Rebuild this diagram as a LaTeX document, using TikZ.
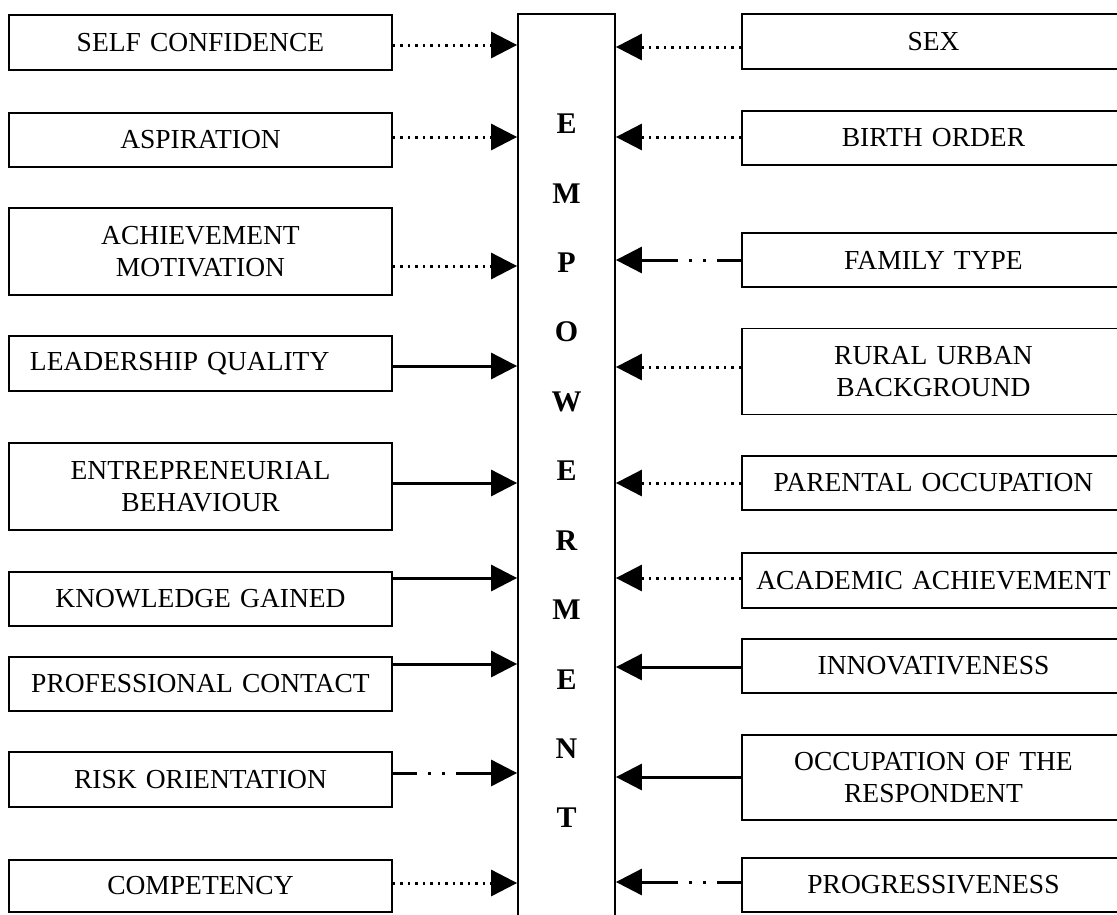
\documentclass[tikz,border=0pt]{standalone}
\usepackage{fontspec}
\setmainfont{Liberation Serif}
\usetikzlibrary{arrows.meta}
\newcommand{\boxfont}{\fontsize{27.5}{32}\selectfont}
\newcommand{\letterfont}{\fontsize{30}{34}\selectfont\bfseries}
\tikzset{
  factor/.style={draw, line width=1.8pt, minimum width=383pt, inner sep=0pt, font=\boxfont},
  ctr/.style={align=center, text width=378pt},
  lft/.style={align=left, text width=341pt},
  letter/.style={font=\letterfont},
  headarrow/.style={-{Triangle[length=26pt,width=26pt]}},
  solidlink/.style={headarrow, line width=3pt},
  dotlink/.style={headarrow, line width=3pt, dash pattern=on 2.5pt off 5pt},
  dashlink/.style={headarrow, line width=3pt, dash pattern=on 24pt off 11pt on 3pt off 11pt on 3pt off 11pt on 50pt},
}
\begin{document}
\begin{tikzpicture}[x=1pt,y=-1pt]
\useasboundingbox (0,0) rectangle (1117,914);
\clip (0,0) rectangle (1117,914);
% central box
\node[draw, line width=1.8pt, minimum width=97pt, minimum height=930pt, inner sep=0pt, anchor=north] (emp) at (566.5,13) {};
\foreach \ch [count=\i from 0] in {E,M,P,O,W,E,R,M,E,N,T}
  \node[letter] (l\i) at (566.5,124+69.4*\i) {\ch};
% left column
\foreach \nm/\txt/\cy/\hh/\ay/\al/\ln in {
  selfconf/SELF CONFIDENCE/42.5/55/45/ctr/dotlink,
  aspir/ASPIRATION/140/54/137/ctr/dotlink,
  achmot/{ACHIEVEMENT\\MOTIVATION}/251.5/87/266/ctr/dotlink,
  leader/LEADERSHIP QUALITY/363.5/55/366/lft/solidlink,
  entre/{ENTREPRENEURIAL\\BEHAVIOUR}/486.5/87/483/ctr/solidlink,
  knowl/KNOWLEDGE GAINED/599/54/578/ctr/solidlink,
  profcont/PROFESSIONAL CONTACT/684/54/664/ctr/solidlink,
  risk/RISK ORIENTATION/779.5/55/773/ctr/dashlink,
  compet/COMPETENCY/886/52/883/ctr/dotlink} {
  \node[factor, \al, minimum height=\hh pt] (\nm) at (200.5,\cy) {\txt};
  \coordinate (\nm-y) at (0,\ay);
  \draw[\ln] (\nm.east |- \nm-y) -- (emp.west |- \nm-y);
}
% right column
\foreach \nm/\txt/\cy/\hh/\ay/\ln in {
  sex/SEX/41.5/55/47/dotlink,
  birth/BIRTH ORDER/138/54/137/dotlink,
  famtype/FAMILY TYPE/260/54/260/dashlink,
  rural/{RURAL URBAN\\BACKGROUND}/371.5/86/367/dotlink,
  parocc/PARENTAL OCCUPATION/483/54/483/dotlink,
  academic/ACADEMIC ACHIEVEMENT/580.5/55/578/dotlink,
  innov/INNOVATIVENESS/666/54/667/solidlink,
  occup/{OCCUPATION OF THE\\RESPONDENT}/777.5/85/777/solidlink,
  progress/PROGRESSIVENESS/885/54/882/dashlink} {
  \node[factor, ctr, minimum height=\hh pt] (\nm) at (933.5,\cy) {\txt};
  \coordinate (\nm-y) at (0,\ay);
  \draw[\ln] (\nm.west |- \nm-y) -- (emp.east |- \nm-y);
}
\end{tikzpicture}
\end{document}
